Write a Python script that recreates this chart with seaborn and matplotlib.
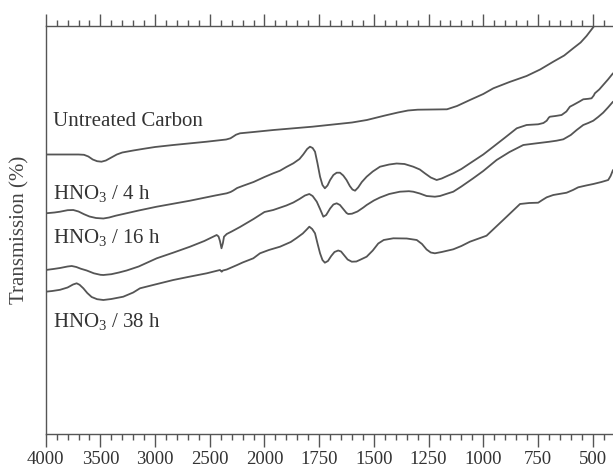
import numpy as np
import pandas as pd
import matplotlib
matplotlib.use("Agg")
import matplotlib.pyplot as plt
from matplotlib.ticker import FixedLocator, NullLocator
import seaborn as sns

# ---------------- data (wavenumber in cm^-1, transmission in arbitrary units) ----------------
wn_untreated = [4000, 3700, 3650, 3610, 3570, 3530, 3490, 3450, 3400, 3350, 3300, 3200, 3100,
                3000, 2834, 2528, 2350, 2311, 2285, 2260, 2224, 2100, 1959, 1781, 1600, 1532,
                1449, 1390, 1344, 1300, 1166, 1120, 1061, 1000, 954, 880, 802, 740, 680, 630,
                589, 555, 528, 493]
t_untreated = [279.5, 279.5, 279.2, 277.5, 274.5, 272.8, 272.3, 273.5, 276.5, 279.5, 281.5, 283.5,
               285.3, 287, 289, 292.3, 294.5, 295.7, 297.5, 299.3, 300.7, 302, 304, 307.3, 311.5,
               314, 318.5, 321.5, 323.5, 324.3, 324.7, 328, 334, 340, 345.7, 352, 358, 364.5,
               372.3, 378.5, 385.7, 391.5, 398, 408]

wn_4h = [4000, 3920, 3869, 3800, 3748, 3700, 3650, 3600, 3540, 3473, 3420, 3360, 3291, 3150,
         2985, 2681, 2450, 2345, 2310, 2285, 2250, 2194, 2100, 2000, 1960, 1929, 1900, 1868,
         1840, 1823, 1805, 1792, 1780, 1769, 1758, 1746, 1735, 1724, 1712, 1700, 1685, 1670,
         1655, 1640, 1625, 1610, 1598, 1586, 1572, 1555, 1533, 1505, 1472, 1430, 1396, 1360,
         1320, 1290, 1267, 1240, 1213, 1190, 1160, 1137, 1100, 1061, 1000, 954, 900, 847,
         802, 749, 725, 710, 700, 695, 670, 642, 620, 604, 589, 560, 543, 520, 505, 495,
         490, 470, 452, 430, 407]
t_4h = [220.7, 221.5, 222.3, 223.8, 224, 222.5, 219.8, 217.5, 216, 215.5, 216.5, 218.3, 220,
        223.5, 227.3, 233.3, 238.5, 240.7, 242, 243.5, 246, 248.3, 252, 257, 260.7, 263.3,
        267, 270.7, 275, 279.5, 285, 287.3, 286, 282.3, 271, 257.3, 249, 245.7, 248.5, 254,
        259, 261.3, 261.3, 258.5, 254, 248, 244.5, 243.3, 246.5, 252, 257.3, 262.5, 267.3,
        269.5, 270.5, 270, 267.3, 264.5, 260.7, 256.5, 254, 255.5, 258.5, 260.7, 265, 270.7,
        279.5, 287.3, 296.5, 305.7, 309, 309.7, 311, 313.3, 316.5, 317.3, 318, 319, 322.5,
        327.3, 329, 332.5, 334.7, 335.2, 335.7, 338.5, 340.7, 344.5, 349, 354.5, 360.7]

wn_16h = [4000, 3930, 3869, 3800, 3762, 3720, 3680, 3625, 3560, 3500, 3473, 3400, 3330, 3260,
          3150, 2985, 2830, 2681, 2550, 2437, 2420, 2407, 2393, 2380, 2370, 2345, 2300, 2224,
          2100, 2000, 1960, 1900, 1868, 1840, 1815, 1795, 1780, 1761, 1746, 1731, 1718, 1700,
          1685, 1670, 1655, 1640, 1625, 1617, 1600, 1575, 1548, 1533, 1500, 1472, 1430, 1381,
          1340, 1320, 1290, 1259, 1221, 1198, 1170, 1137, 1100, 1046, 1000, 939, 880, 817,
          756, 700, 665, 634, 600, 573, 543, 520, 497, 475, 452, 430, 407]
t_16h = [164, 165, 166, 167.5, 168, 167, 165.3, 163.5, 160.7, 159.2, 159, 159.8, 161.5, 163.5,
         167.5, 175.7, 181.5, 187.3, 193, 199, 197.5, 193, 185.7, 191, 197.3, 200, 202.5, 207,
         215, 222, 224, 228.5, 231.5, 235, 238.5, 240, 238, 232.3, 225, 217.3, 219, 225.5,
         229.5, 230.7, 229, 225, 221, 220, 220.3, 222.5, 226.5, 229, 233.5, 236.5, 240, 242.3,
         242.8, 242.3, 240.5, 238, 237.3, 238, 240, 242.3, 247.5, 255.7, 263, 274, 282, 289,
         290.7, 292.2, 293.3, 294.7, 299, 304, 309, 311, 313.3, 317, 321.3, 326.5, 332.3]

wn_38h = [4000, 3940, 3869, 3800, 3750, 3717, 3690, 3656, 3620, 3580, 3530, 3473, 3400, 3291,
          3200, 3138, 3000, 2834, 2700, 2528, 2407, 2398, 2391, 2380, 2345, 2250, 2200, 2102,
          2041, 1980, 1929, 1880, 1853, 1825, 1807, 1795, 1782, 1769, 1757, 1746, 1735, 1724,
          1710, 1695, 1680, 1663, 1650, 1635, 1620, 1601, 1580, 1560, 1533, 1505, 1480, 1455,
          1411, 1350, 1304, 1280, 1259, 1240, 1221, 1190, 1137, 1100, 1061, 985, 909, 832,
          790, 749, 730, 710, 680, 619, 590, 566, 530, 497, 460, 429, 418, 407]
t_38h = [142.3, 143, 144.2, 146.5, 149.5, 150.7, 149.2, 145.7, 141, 137, 134.8, 134, 135, 137.3,
         141.5, 145.7, 149.5, 154, 157, 160.7, 164, 163, 162.3, 163.5, 164.5, 169, 171.5, 175.7,
         180.7, 184, 187.3, 192, 196, 200.5, 204.5, 207.3, 205, 200.7, 190, 180.7, 174, 171.3,
         173, 178, 182, 183.5, 182.5, 178.5, 174.5, 172.3, 172.5, 174.5, 177.3, 183.5, 190.5,
         194, 195.7, 195.5, 194, 190, 184.5, 181.5, 180.7, 182, 184.7, 188, 192.3, 198.3, 214,
         230, 231, 231.3, 234, 236.7, 239, 241.3, 244, 246.7, 248.5, 250, 252, 254, 258, 264]

series_names = ["Untreated Carbon", "HNO$_3$ / 4 h", "HNO$_3$ / 16 h", "HNO$_3$ / 38 h"]

major_ticks = [4000, 3500, 3000, 2500, 2000, 1750, 1500, 1250, 1000, 750, 500]
tick_labels = ["4000", "3500", "3000", "2500", "2000", "1750", "1500", "1250", "1000", "750", "500"]
minor_ticks = [w for w in range(3900, 2000, -100) if w % 500 != 0] + \
              [w for w in range(1950, 400, -50) if w % 250 != 0]

# ---------------- style ----------------
sns.set_style("ticks")
plt.rcParams["font.family"] = ["Liberation Serif", "DejaVu Serif"]
plt.rcParams["mathtext.fontset"] = "custom"
plt.rcParams["mathtext.rm"] = "Liberation Serif"
plt.rcParams["mathtext.it"] = "Liberation Serif:italic"

LINE = "#555555"
TXT = "#333333"

fig = plt.figure(figsize=(6.13, 4.69), dpi=100)
ax = fig.add_axes([45.7 / 613, 35 / 469, 1 - 45.7 / 613, (434 - 26) / 469])


def fwd(x):
    x = np.asarray(x, dtype=float)
    return np.where(x >= 2000, (x - 2000) / 500.0, (x - 2000) / 250.0)


def inv(y):
    y = np.asarray(y, dtype=float)
    return np.where(y >= 0, 2000 + 500 * y, 2000 + 250 * y)


ax.set_xscale("function", functions=(fwd, inv))

for wn, t in [(wn_untreated, t_untreated), (wn_4h, t_4h), (wn_16h, t_16h), (wn_38h, t_38h)]:
    df = pd.DataFrame({"wavenumber": wn, "T": t})
    sns.lineplot(data=df, x="wavenumber", y="T", ax=ax, color=LINE, lw=1.3,
                 estimator=None, sort=False, legend=False)

ax.set_xlim(4000, 407)
ax.set_ylim(0, 408)

ax.xaxis.set_major_locator(FixedLocator(major_ticks))
ax.xaxis.set_minor_locator(FixedLocator(minor_ticks))
ax.set_xticklabels(tick_labels)
ax.yaxis.set_major_locator(NullLocator())
ax.yaxis.set_minor_locator(NullLocator())

ax.tick_params(axis="x", which="both", direction="out", top=True, bottom=True,
               labeltop=False, color="#555555", width=1.0)
ax.tick_params(axis="x", which="major", length=9, pad=3, labelsize=13.5, labelcolor=TXT)
ax.tick_params(axis="x", which="minor", length=4.5)

for side in ["left", "top", "bottom"]:
    ax.spines[side].set_color("#555555")
    ax.spines[side].set_linewidth(1.0)
ax.spines["right"].set_visible(False)

ax.set_xlabel("")
ax.set_ylabel("Transmission (%)", fontsize=15, color="#444444", labelpad=12)

label_y = [0.755, 0.575, 0.467, 0.262]
for name, yy in zip(series_names, label_y):
    ax.text(0.013, yy, name, transform=ax.transAxes, fontsize=15, color=TXT,
            ha="left", va="baseline")

fig.savefig("out.png", dpi=100)
